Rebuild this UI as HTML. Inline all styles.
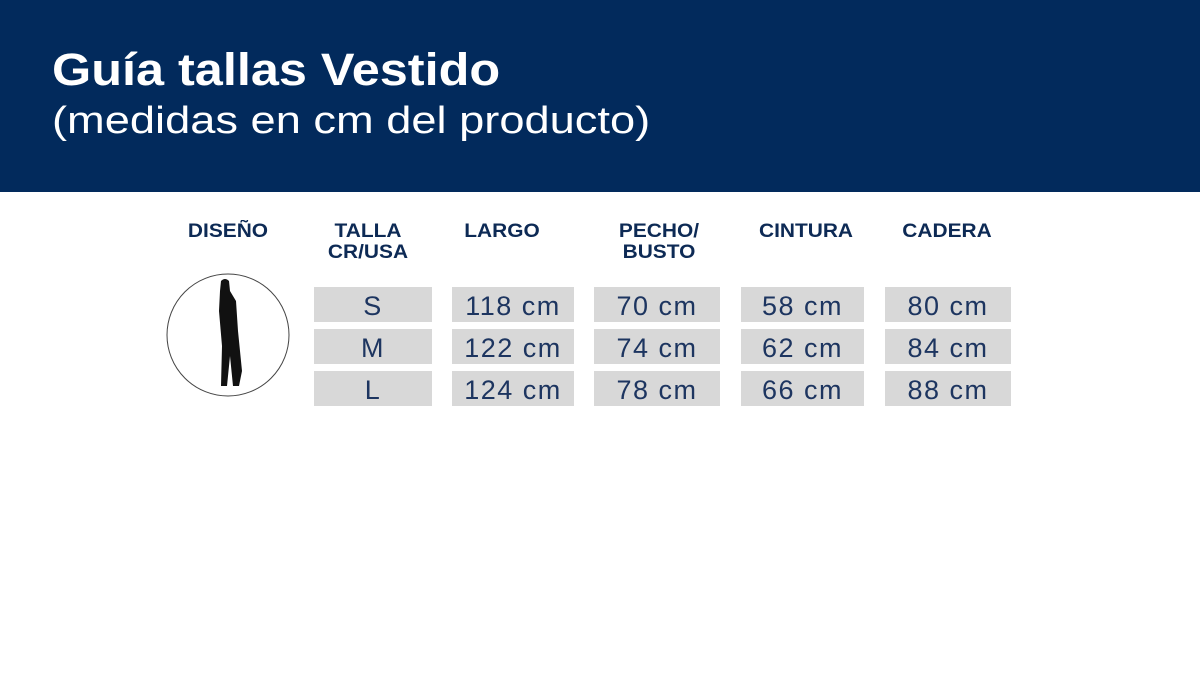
<!DOCTYPE html>
<html><head><meta charset="utf-8"><style>
body{margin:0;width:1200px;height:697px;background:#fff;position:relative;overflow:hidden;font-family:"Liberation Sans",sans-serif}
.hdr{position:absolute;left:0;top:0;width:1200px;height:192px;background:#022a5c}
.t1{position:absolute;left:52px;top:44px;color:#fff;font-size:45px;font-weight:bold;transform:scaleX(1.12);transform-origin:0 0;white-space:nowrap}
.t2{position:absolute;left:52px;top:100px;color:#fff;font-size:38px;transform:scaleX(1.19);transform-origin:0 0;white-space:nowrap}
.h{position:absolute;color:#0d2a55;font-weight:900;font-size:19px;text-align:center;line-height:21px;transform:scaleX(1.1)}
.c{position:absolute;background:#d8d8d8;color:#1d3560;font-size:27px;text-align:center;height:35px;line-height:38px;letter-spacing:1.5px}
</style></head><body>
<div class="hdr"></div>
<div class="t1">Guía tallas Vestido</div>
<div class="t2">(medidas en cm del producto)</div>
<div class="h" style="left:178px;top:221px;width:100px">DISEÑO</div>
<div class="h" style="left:313px;top:221px;width:110px">TALLA<br>CR/USA</div>
<div class="h" style="left:452px;top:221px;width:100px">LARGO</div>
<div class="h" style="left:600px;top:221px;width:118px">PECHO/<br>BUSTO</div>
<div class="h" style="left:745px;top:221px;width:122px">CINTURA</div>
<div class="h" style="left:886px;top:221px;width:122px">CADERA</div>
<svg style="position:absolute;left:165px;top:273px" width="126" height="126">
<circle cx="63" cy="62" r="61" fill="#fff" stroke="#444" stroke-width="1"/>
<path d="M56 8 q4-4 8 0 l1 10 l6 10 l2 30 l4 40 l-3 15 h-6 l-3-30 l-3 30 h-6 l1-40 l-3-35 l1-20 z" fill="#111"/>
</svg>
<div class="c" style="left:314px;top:287px;width:118px">S</div>
<div class="c" style="left:314px;top:329px;width:118px">M</div>
<div class="c" style="left:314px;top:371px;width:118px">L</div>
<div class="c" style="left:452px;top:287px;width:122px">118 cm</div>
<div class="c" style="left:452px;top:329px;width:122px">122 cm</div>
<div class="c" style="left:452px;top:371px;width:122px">124 cm</div>
<div class="c" style="left:594px;top:287px;width:126px">70 cm</div>
<div class="c" style="left:594px;top:329px;width:126px">74 cm</div>
<div class="c" style="left:594px;top:371px;width:126px">78 cm</div>
<div class="c" style="left:741px;top:287px;width:123px">58 cm</div>
<div class="c" style="left:741px;top:329px;width:123px">62 cm</div>
<div class="c" style="left:741px;top:371px;width:123px">66 cm</div>
<div class="c" style="left:885px;top:287px;width:126px">80 cm</div>
<div class="c" style="left:885px;top:329px;width:126px">84 cm</div>
<div class="c" style="left:885px;top:371px;width:126px">88 cm</div>
</body></html>
